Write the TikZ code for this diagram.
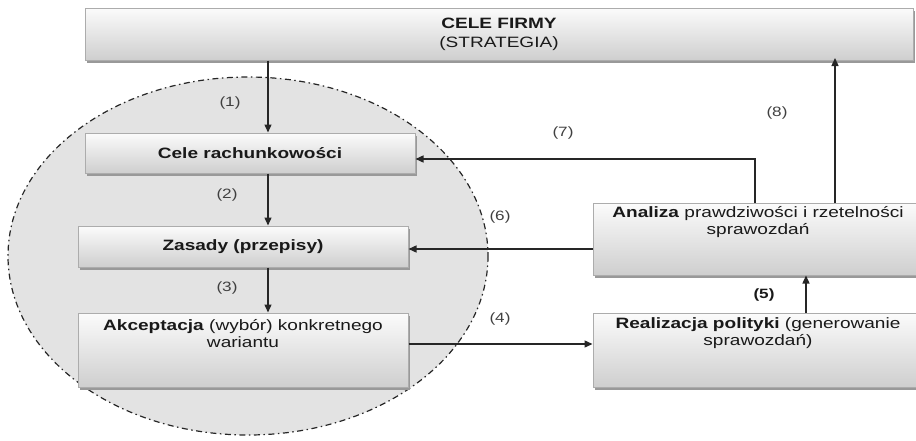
\documentclass[tikz,border=0pt]{standalone}
\usepackage{fontspec}
\setmainfont[FakeStretch=1.27]{Liberation Sans}
\usetikzlibrary{arrows.meta,shadows}

\tikzset{
  box/.style={draw=gray!65, line width=1pt, top color=gray!3, bottom color=gray!38, inner sep=0pt,
    general shadow={fill=gray!80, shadow xshift=1.5pt, shadow yshift=-2.5pt}},
  arr/.style={line width=1.4pt, draw=black!85, -{Triangle[length=8pt,width=7pt]}},
  num/.style={inner sep=0pt, text=black!75, font=\fontsize{13.5}{15}\selectfont},
  txt/.style={inner sep=0pt, align=center, text=black!90, font=\fontsize{15}{17}\selectfont},
}

\begin{document}
\begin{tikzpicture}[x=1pt,y=1pt,yscale=-1,xscale=1]
\useasboundingbox (0,0) rectangle (916,440);

%Shape: Ellipse
\draw[fill=gray!22, draw=black!85, line width=1.2pt, dash pattern=on 6pt off 3.5pt on 1.5pt off 3.5pt] (248,256) ellipse [x radius=240, y radius=179];

%Shape: Boxes
\node[box, txt, minimum width=828pt, minimum height=52pt] (firma) at (499,34) {\textbf{CELE FIRMY}\\[2pt](STRATEGIA)};
\node[box, txt, minimum width=330pt, minimum height=40pt] (cele) at (250,153) {\textbf{Cele rachunkowości}};
\node[box, txt, minimum width=330pt, minimum height=41pt] (zasady) at (243,246.5) {\textbf{Zasady (przepisy)}};
\node[box, minimum width=330pt, minimum height=74pt] (akcept) at (243,350) {};
\node[box, minimum width=327pt, minimum height=72pt] (analiza) at (756.5,239) {};
\node[box, minimum width=327pt, minimum height=74pt] (realiz) at (756.5,350) {};

% Text Node
\node[txt] (akcept-txt) at (243,334) {\textbf{Akceptacja} (wybór) konkretnego\\wariantu};
% Text Node
\node[txt] (analiza-txt) at (758,222) {\textbf{Analiza} prawdziwości i rzetelności\\sprawozdań};
% Text Node
\node[txt] (realiz-txt) at (758,333) {\textbf{Realizacja polityki} (generowanie\\sprawozdań)};

%Straight Lines
\coordinate (ax) at (268,0);
\coordinate (p4) at (0,344);
\coordinate (p5) at (806,0);
\coordinate (p6) at (0,249);
\coordinate (p7) at (755,159);
\coordinate (p8) at (835,0);
\draw[arr] (firma.south -| ax) -- (cele.north -| ax);
\draw[arr] (cele.south -| ax) -- (zasady.north -| ax);
\draw[arr] (zasady.south -| ax) -- (akcept.north -| ax);
\draw[arr] (akcept.east |- p4) -- (realiz.west |- p4);
\draw[arr] (realiz.north -| p5) -- (analiza.south -| p5);
\draw[arr] (analiza.west |- p6) -- (zasady.east |- p6);
\draw[arr] (analiza.north -| p7) -- (p7) -- (cele.east |- p7);
\draw[arr] (analiza.north -| p8) -- ([yshift=-2.5pt]firma.south -| p8);

% Text Node
\node[num] (n1) at (230,103) {(1)};
\node[num] (n2) at (227,195) {(2)};
\node[num] (n3) at (227,288) {(3)};
\node[num] (n4) at (500,319) {(4)};
\node[num, text=black!90, font=\fontsize{13.5}{15}\selectfont\bfseries] (n5) at (764,295) {(5)};
\node[num] (n6) at (500,217) {(6)};
\node[num] (n7) at (563,133) {(7)};
\node[num] (n8) at (777,113) {(8)};

\end{tikzpicture}
\end{document}
